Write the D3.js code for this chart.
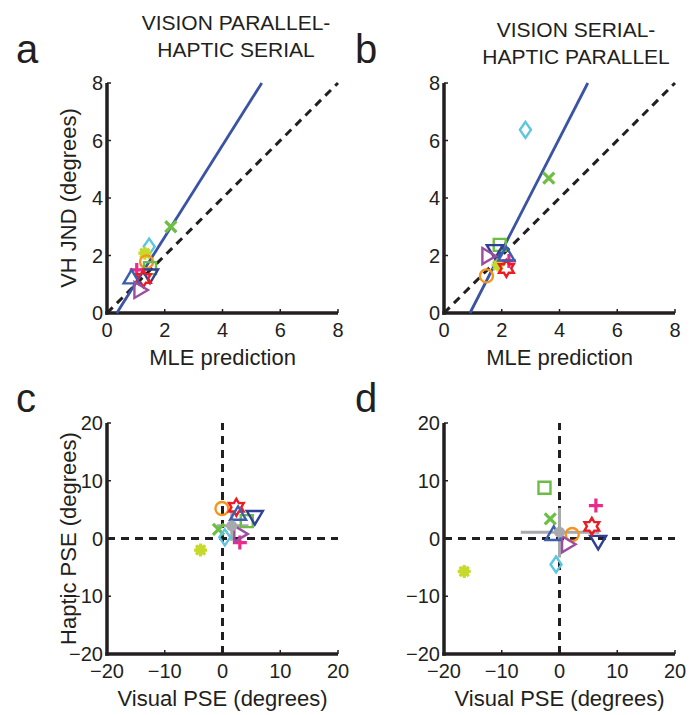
<!DOCTYPE html>
<html><head><meta charset="utf-8">
<script src="https://cdn.jsdelivr.net/npm/d3@7"></script>
<style>body{margin:0;background:#fff}svg{display:block}text{font-family:"Liberation Sans",Arial,sans-serif;fill:#231f20}</style>
</head><body>
<svg id="chart" width="699" height="715"></svg>
<script>
// ---- data ----
const markerTypes = ["x","diamond","asterisk","circle","square","triDown","plus","hexagram","triUp","triRight"];
const markerColors = ["#6dbf44","#5bc6df","#c7da2b","#f7941d","#6cbc45","#2e3f95","#ec2a8c","#ed1c24","#3b5ead","#9b4d9f"];
// panel a
const aMLE = [2.21,1.46,1.31,1.37,1.49,1.49,1.03,1.26,0.85,1.14];
const aVH  = [3.00,2.31,2.08,1.78,1.56,1.32,1.50,1.20,1.22,0.80];
// panel b
const bMLE = [3.63,2.82,1.87,1.47,1.93,1.76,2.25,2.16,2.16,1.52];
const bVH  = [4.69,6.37,1.67,1.29,2.37,2.17,1.81,1.55,2.02,1.98];
// panel c
const cVis = [-0.7,0.4,-3.8,-0.1,4.2,5.6,3.0,2.4,2.7,3.0];
const cHap = [1.6,0.2,-2.0,5.2,3.0,3.8,-0.7,5.4,4.2,0.8];
// panel d
const dVis = [-1.6,-0.6,-16.5,2.2,-2.6,6.7,6.3,5.6,-1.0,1.4];
const dHap = [3.4,-4.5,-5.7,0.7,8.8,-0.5,5.7,2.1,0.7,-1.0];
// means with error ranges [x, y, xlo, xhi, ylo, yhi]
const cMean = [1.6,2.2,-1.0,4.5,-0.4,4.8];
const dMean = [0.0,1.1,-6.7,6.9,-3.3,5.3];
// regression lines (endpoints)
const aFit = [[0.34,0],[5.36,8]];
const bFit = [[0.90,0],[4.98,8]];
const unity = [[0,0],[8,8]];
const jndTicks = [0,2,4,6,8];
const pseTicks = [-20,-10,0,10,20];
const titles = {a:["VISION PARALLEL-","HAPTIC SERIAL"], b:["VISION SERIAL-","HAPTIC PARALLEL"]};

const svg = d3.select("#chart");
const ink = "#231f20";
const fmt = v => v < 0 ? "\u2212" + Math.abs(v) : String(v);

function starPath(n, ro, ri){
  const pts = d3.range(2*n).map(k=>{
    const a = -Math.PI/2 + k*Math.PI/n, r = k%2 ? ri : ro;
    return [r*Math.cos(a), r*Math.sin(a)];
  });
  return "M" + pts.map(p=>p[0].toFixed(2)+","+p[1].toFixed(2)).join("L") + "Z";
}

const shapes = {
  x: "M-5.5,-5.5L5.5,5.5M-5.5,5.5L5.5,-5.5",
  diamond: "M0,-8L5.5,0L0,8L-5.5,0Z",
  asterisk: "M-6.5,0L6.5,0M0,-6.5L0,6.5M-4.6,-4.6L4.6,4.6M-4.6,4.6L4.6,-4.6",
  circle: "M6.5,0A6.5,6.5 0 1,1 -6.5,0A6.5,6.5 0 1,1 6.5,0Z",
  square: "M-6,-6L6,-6L6,6L-6,6Z",
  triDown: "M-8,-5.5L8,-5.5L0,8Z",
  plus: "M-7,0L7,0M0,-7L0,7",
  hexagram: starPath(6, 8.5, 4.9),
  triUp: "M0,-8L8,5.5L-8,5.5Z",
  triRight: "M-5.5,-8L8,0L-5.5,8Z"
};

function drawPanel(o){
  const g = svg.append("g");
  const x = o.x, y = o.y;
  const [x0,x1] = x.range(), [y0,y1] = y.range();
  o.ticks.forEach(t=>{
    g.append("line").attr("x1",x0).attr("x2",x0+4).attr("y1",y(t)).attr("y2",y(t)).attr("stroke",ink).attr("stroke-width",1.5);
    g.append("line").attr("x1",x(t)).attr("x2",x(t)).attr("y1",y0).attr("y2",y0-4).attr("stroke",ink).attr("stroke-width",1.5);
  });
  g.append("line").attr("x1",x0).attr("x2",x0).attr("y1",y0+1.75).attr("y2",y1).attr("stroke",ink).attr("stroke-width",3.5);
  g.append("line").attr("x1",x0-1.75).attr("x2",x1).attr("y1",y0).attr("y2",y0).attr("stroke",ink).attr("stroke-width",3.5);
  o.ticks.forEach(t=>{
    g.append("text").attr("x",x0-4).attr("y",y(t)+7).attr("text-anchor","end").attr("font-size",20).text(fmt(t));
    g.append("text").attr("x",x(t)).attr("y",y0+24).attr("text-anchor","middle").attr("font-size",20).text(fmt(t));
  });
  g.append("text").attr("x",(x0+x1)/2).attr("y",y0+52).attr("text-anchor","middle").attr("font-size",22).text(o.xlabel);
  if(o.ylabel){
    const cy=(y0+y1)/2;
    g.append("text").attr("transform",`translate(${x0-31},${cy}) rotate(-90)`).attr("text-anchor","middle").attr("font-size",22).text(o.ylabel);
  }
  g.append("text").attr("x",o.letter[1]).attr("y",o.letter[2]).attr("font-size",40).text(o.letter[0]);
  const line = d3.line().x(d=>x(d[0])).y(d=>y(d[1]));
  (o.dashed||[]).forEach(seg=>{
    g.append("path").attr("d",line(seg)).attr("fill","none").attr("stroke",ink).attr("stroke-width",3).attr("stroke-dasharray","8,6");
  });
  if(o.fit){
    g.append("path").attr("d",line(o.fit)).attr("fill","none").attr("stroke","#3a53a4").attr("stroke-width",2.8);
  }
  if(o.mean){
    const m=o.mean, gc="#a7a9ac";
    g.append("line").attr("x1",x(m[2])).attr("x2",x(m[3])).attr("y1",y(m[1])).attr("y2",y(m[1])).attr("stroke",gc).attr("stroke-width",3);
    g.append("line").attr("x1",x(m[0])).attr("x2",x(m[0])).attr("y1",y(m[4])).attr("y2",y(m[5])).attr("stroke",gc).attr("stroke-width",3);
  }
  o.xs.forEach((v,i)=>{
    const t = markerTypes[i], c = markerColors[i];
    const filled = t==="asterisk";
    g.append("path").attr("d",shapes[t]).attr("transform",`translate(${x(v)},${y(o.ys[i])})`)
      .attr("stroke",c).attr("stroke-width", (t==="x"||t==="plus")?3.2:(filled?3.2:2.4))
      .attr("fill","none").attr("stroke-linejoin","miter");
    if(filled){
      g.append("circle").attr("cx",x(v)).attr("cy",y(o.ys[i])).attr("r",5).attr("fill",c);
    }
  });
  if(o.mean){
    const m=o.mean, gc="#a7a9ac";
    g.append("circle").attr("cx",x(m[0])).attr("cy",y(m[1])).attr("r",5.5).attr("fill",gc);
  }
  if(o.title){
    o.title.forEach((s,i)=>{
      g.append("text").attr("x",o.titlePos[0]).attr("y",o.titlePos[1]+i*27).attr("text-anchor","middle").attr("font-size",21).text(s);
    });
  }
}

const yTop = d3.scaleLinear([0,8],[313,83]);
const yBot = d3.scaleLinear([-20,20],[654,423]);

drawPanel({x:d3.scaleLinear([0,8],[107,338]), y:yTop, ticks:jndTicks,
  xlabel:"MLE prediction", ylabel:"VH JND (degrees)", letter:["a",16,63], dashed:[unity], fit:aFit, xs:aMLE, ys:aVH,
  title:titles.a, titlePos:[236,30]});
drawPanel({x:d3.scaleLinear([0,8],[444,675]), y:yTop, ticks:jndTicks,
  xlabel:"MLE prediction", ylabel:null, letter:["b",355,63], dashed:[unity], fit:bFit, xs:bMLE, ys:bVH,
  title:titles.b, titlePos:[576,37]});
drawPanel({x:d3.scaleLinear([-20,20],[107,338]), y:yBot, ticks:pseTicks,
  xlabel:"Visual PSE (degrees)", ylabel:"Haptic PSE (degrees)", letter:["c",16,412],
  dashed:[[[0,-20],[0,20]],[[-20,0],[20,0]]], xs:cVis, ys:cHap, mean:cMean});
drawPanel({x:d3.scaleLinear([-20,20],[444,675]), y:yBot, ticks:pseTicks,
  xlabel:"Visual PSE (degrees)", ylabel:null, letter:["d",355,412],
  dashed:[[[0,-20],[0,20]],[[-20,0],[20,0]]], xs:dVis, ys:dHap, mean:dMean});
</script>
</body></html>
